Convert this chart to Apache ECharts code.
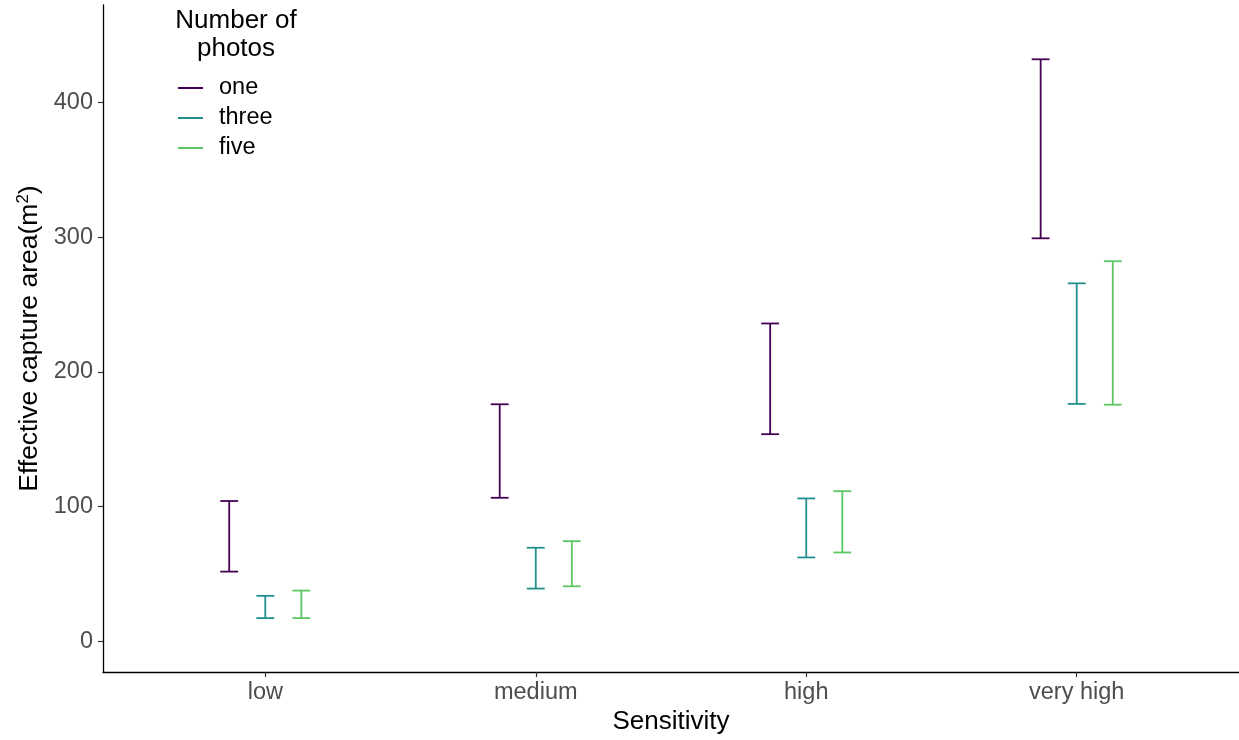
<!DOCTYPE html>
<html>
<head>
<meta charset="utf-8">
<script src="https://cdn.jsdelivr.net/npm/echarts@6/dist/echarts.min.js"></script>
<style>
  html, body { margin: 0; padding: 0; background: #fff; }
  #chart { width: 1239px; height: 740px; }
</style>
</head>
<body>
<div id="chart"></div>
<script>
// Sensitivity levels on the x axis
const categories = ['low', 'medium', 'high', 'very high'];
// Photo-count groups, dodged within each sensitivity level
const groups = ['one', 'three', 'five'];
const groupColors = ['#440154', '#21908C', '#5DC863'];

// Lower and upper bounds of effective capture area (m^2) per group
const oneLower   = [51.7, 106.5, 153.7, 299.1];
const oneUpper   = [104.1, 175.9, 235.9, 432.0];
const threeLower = [17.2, 39.1, 62.2, 176.2];
const threeUpper = [33.7, 69.4, 106.0, 265.7];
const fiveLower  = [17.2, 40.8, 65.9, 175.6];
const fiveUpper  = [37.6, 74.3, 111.4, 282.1];

const yTicks = [0, 100, 200, 300, 400];

const lowers = [oneLower, threeLower, fiveLower];
const uppers = [oneUpper, threeUpper, fiveUpper];

const DODGE = 0.4;      // total dodge width (x units)
const CAP_HALF = 0.033; // half width of the error bar caps (x units)
const FONT = 'Liberation Sans, Arial, sans-serif';

function groupOffset(g) {
  return (g - (groups.length - 1) / 2) * DODGE / groups.length;
}

const series = groups.map((name, g) => ({
  name: name,
  type: 'custom',
  itemStyle: { color: groupColors[g] },
  encode: { x: 0, y: [1, 2] },
  data: categories.map((c, i) => [i + 1 + groupOffset(g), lowers[g][i], uppers[g][i]]),
  renderItem: function (params, api) {
    const x = api.value(0);
    const lo = api.coord([x, api.value(1)]);
    const hi = api.coord([x, api.value(2)]);
    const left = api.coord([x - CAP_HALF, 0])[0];
    const right = api.coord([x + CAP_HALF, 0])[0];
    const style = { stroke: groupColors[g], lineWidth: 1.8, fill: null };
    return {
      type: 'group',
      children: [
        { type: 'line', shape: { x1: lo[0], y1: lo[1], x2: hi[0], y2: hi[1] }, style: style },
        { type: 'line', shape: { x1: left, y1: hi[1], x2: right, y2: hi[1] }, style: style },
        { type: 'line', shape: { x1: left, y1: lo[1], x2: right, y2: lo[1] }, style: style }
      ]
    };
  }
}));

const chart = echarts.init(document.getElementById('chart'), null, { renderer: 'canvas' });

chart.setOption({
  animation: false,
  backgroundColor: '#ffffff',
  textStyle: { fontFamily: FONT },
  grid: { left: 103, right: 0, top: 5, bottom: 64, containLabel: false },
  graphic: [{
    type: 'text',
    x: 236,
    y: 7,
    style: {
      text: 'Number of\nphotos',
      fontSize: 26,
      lineHeight: 28,
      fill: '#000',
      align: 'center',
      verticalAlign: 'top',
      fontFamily: FONT
    }
  }],
  legend: {
    orient: 'vertical',
    left: 178,
    top: 73,
    padding: 0,
    itemWidth: 25,
    itemHeight: 2,
    itemGap: 0,
    icon: 'rect',
    textStyle: { fontSize: 23.5, lineHeight: 30, color: '#000', padding: [0, 0, 0, 11] },
    data: groups
  },
  xAxis: {
    type: 'value',
    min: 0.4,
    max: 4.6,
    name: 'Sensitivity',
    nameLocation: 'middle',
    nameGap: 34,
    nameTextStyle: { fontSize: 26, color: '#000' },
    axisLine: { show: true, onZero: false, lineStyle: { color: '#000', width: 1.3 } },
    axisTick: { show: true, length: 5, lineStyle: { color: '#333', width: 1.2 }, customValues: [1, 2, 3, 4] },
    axisLabel: {
      fontSize: 23.5, color: '#4D4D4D', margin: 8,
      customValues: [1, 2, 3, 4],
      formatter: v => categories[Math.round(v) - 1]
    },
    splitLine: { show: false }
  },
  yAxis: {
    type: 'value',
    min: -22.9,
    max: 472.3,
    name: 'Effective capture area(m{sup|2})',
    nameLocation: 'middle',
    nameGap: 58,
    nameTextStyle: {
      fontSize: 26.5, color: '#000',
      rich: { sup: { fontSize: 17, color: '#000', verticalAlign: 'top', padding: [0, 0, 12, 0] } }
    },
    axisLine: { show: true, onZero: false, lineStyle: { color: '#000', width: 1.3 } },
    axisTick: { show: true, length: 5, lineStyle: { color: '#333', width: 1.2 }, customValues: yTicks },
    axisLabel: { fontSize: 23.5, color: '#4D4D4D', margin: 10, customValues: yTicks },
    splitLine: { show: false }
  },
  series: series
});
</script>
</body>
</html>
